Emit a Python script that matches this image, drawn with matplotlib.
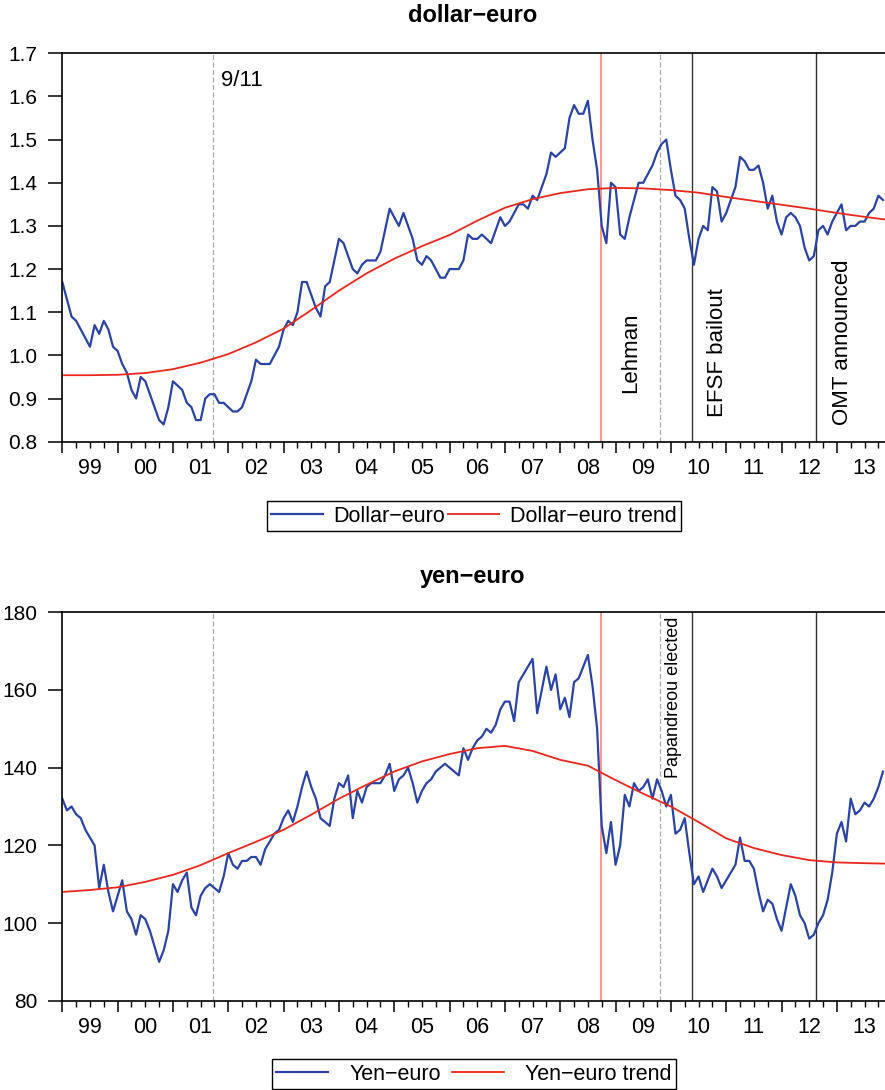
import numpy as np
import matplotlib
matplotlib.use("Agg")
import matplotlib.pyplot as plt
import matplotlib.ticker as ticker

plt.rcParams["font.family"] = ["Liberation Sans", "DejaVu Sans"]

# ---------------------------------------------------------------------------
# Data (monthly readings, Jan 1999 - Nov 2013)
# ---------------------------------------------------------------------------
dollar_euro = [
    1.17, 1.13, 1.09, 1.08, 1.06, 1.04, 1.02, 1.07, 1.05, 1.08, 1.06, 1.02,   # 1999
    1.01, 0.98, 0.96, 0.92, 0.90, 0.95, 0.94, 0.91, 0.88, 0.85, 0.84, 0.88,   # 2000
    0.94, 0.93, 0.92, 0.89, 0.88, 0.85, 0.85, 0.90, 0.91, 0.91, 0.89, 0.89,   # 2001
    0.88, 0.87, 0.87, 0.88, 0.91, 0.94, 0.99, 0.98, 0.98, 0.98, 1.00, 1.02,   # 2002
    1.06, 1.08, 1.07, 1.10, 1.17, 1.17, 1.14, 1.11, 1.09, 1.16, 1.17, 1.22,   # 2003
    1.27, 1.26, 1.23, 1.20, 1.19, 1.21, 1.22, 1.22, 1.22, 1.24, 1.29, 1.34,   # 2004
    1.32, 1.30, 1.33, 1.30, 1.27, 1.22, 1.21, 1.23, 1.22, 1.20, 1.18, 1.18,   # 2005
    1.20, 1.20, 1.20, 1.22, 1.28, 1.27, 1.27, 1.28, 1.27, 1.26, 1.29, 1.32,   # 2006
    1.30, 1.31, 1.33, 1.35, 1.35, 1.34, 1.37, 1.36, 1.39, 1.42, 1.47, 1.46,   # 2007
    1.47, 1.48, 1.55, 1.58, 1.56, 1.56, 1.59, 1.50, 1.43, 1.30, 1.26, 1.40,   # 2008
    1.39, 1.28, 1.27, 1.32, 1.36, 1.40, 1.40, 1.42, 1.44, 1.47, 1.49, 1.50,   # 2009
    1.43, 1.37, 1.36, 1.34, 1.27, 1.21, 1.27, 1.30, 1.29, 1.39, 1.38, 1.31,   # 2010
    1.33, 1.36, 1.39, 1.46, 1.45, 1.43, 1.43, 1.44, 1.40, 1.34, 1.37, 1.31,   # 2011
    1.28, 1.32, 1.33, 1.32, 1.30, 1.25, 1.22, 1.23, 1.29, 1.30, 1.28, 1.31,   # 2012
    1.33, 1.35, 1.29, 1.30, 1.30, 1.31, 1.31, 1.33, 1.34, 1.37, 1.36,         # 2013
]

yen_euro = [
    132, 129, 130, 128, 127, 124, 122, 120, 109, 115, 108, 103,   # 1999
    107, 111, 103, 101, 97, 102, 101, 98, 94, 90, 93, 98,         # 2000
    110, 108, 111, 113, 104, 102, 107, 109, 110, 109, 108, 112,   # 2001
    118, 115, 114, 116, 116, 117, 117, 115, 119, 121, 123, 124,   # 2002
    127, 129, 126, 130, 135, 139, 135, 132, 127, 126, 125, 132,   # 2003
    136, 135, 138, 127, 134, 131, 135, 136, 136, 136, 138, 141,   # 2004
    134, 137, 138, 140, 136, 131, 134, 136, 137, 139, 140, 141,   # 2005
    140, 139, 138, 145, 142, 145, 147, 148, 150, 149, 151, 155,   # 2006
    157, 157, 152, 162, 164, 166, 168, 154, 160, 166, 160, 164,   # 2007
    155, 158, 153, 162, 163, 166, 169, 161, 150, 125, 118, 126,   # 2008
    115, 120, 133, 130, 136, 134, 135, 137, 132, 137, 134, 130,   # 2009
    133, 123, 124, 127, 118, 110, 112, 108, 111, 114, 112, 109,   # 2010
    111, 113, 115, 122, 116, 116, 114, 108, 103, 106, 105, 101,   # 2011
    98, 104, 110, 107, 102, 100, 96, 97, 100, 102, 106, 113,      # 2012
    123, 126, 121, 132, 128, 129, 131, 130, 132, 135, 139,        # 2013
]
months = 1999 + np.arange(len(dollar_euro)) / 12.0

trend_x = [1999.0, 1999.5, 2000.0, 2000.5, 2001.0, 2001.5, 2002.0, 2002.5,
           2003.0, 2003.5, 2004.0, 2004.5, 2005.0, 2005.5, 2006.0, 2006.5,
           2007.0, 2007.5, 2008.0, 2008.5, 2009.0, 2009.5, 2010.0, 2010.5,
           2011.0, 2011.5, 2012.0, 2012.5, 2013.0, 2013.5, 2013.87]
dollar_trend = [0.954, 0.954, 0.955, 0.959, 0.968, 0.983, 1.003, 1.030,
                1.062, 1.105, 1.150, 1.190, 1.224, 1.253, 1.279, 1.312,
                1.342, 1.362, 1.376, 1.385, 1.388, 1.387, 1.383, 1.377,
                1.367, 1.358, 1.349, 1.340, 1.330, 1.321, 1.315]
yen_trend = [108.0, 108.5, 109.2, 110.6, 112.4, 114.9, 118.0, 120.9,
             124.0, 127.9, 132.0, 135.6, 139.0, 141.6, 143.5, 145.0,
             145.6, 144.3, 142.0, 140.5, 136.8, 133.3, 130.0, 126.0,
             121.8, 119.3, 117.5, 116.2, 115.6, 115.4, 115.3]

# event dates (decimal years)
events = {
    "9/11": 2001.73,
    "Lehman": 2008.73,
    "Papandreou": 2009.80,
    "EFSF": 2010.38,
    "OMT": 2012.63,
}
year_labels = ["99", "00", "01", "02", "03", "04", "05", "06",
               "07", "08", "09", "10", "11", "12", "13"]

BLUE = "#2b44a3"
RED = "#e8281e"
LEHMAN_RED = "#f2877c"
GRAY = "#a8a8a8"
FS = 15.5

fig = plt.figure(figsize=(8.85, 10.9), dpi=100)
ax1 = fig.add_axes([0.0704, 0.5948, 0.9296, 0.3563])
ax2 = fig.add_axes([0.0704, 0.0819, 0.9296, 0.3564])


def style_axis(ax, ylim, yticks, fmt):
    ax.set_xlim(1999.0, 2013.87)
    ax.set_ylim(*ylim)
    ax.set_yticks(yticks)
    ax.yaxis.set_major_formatter(ticker.FormatStrFormatter(fmt))
    ax.xaxis.set_major_locator(ticker.FixedLocator(np.arange(1999, 2014)))
    ax.xaxis.set_minor_locator(ticker.FixedLocator(np.arange(1999, 2014, 0.25)))
    ax.xaxis.set_major_formatter(ticker.NullFormatter())
    ax.tick_params(axis="x", which="major", direction="out", length=8, width=1.1)
    ax.tick_params(axis="x", which="minor", direction="out", length=4, width=1.0)
    ax.tick_params(axis="y", direction="out", length=10, width=1.1,
                   labelsize=15, pad=8)
    for s in ["left", "bottom", "top"]:
        ax.spines[s].set_linewidth(1.2)
    ax.spines["right"].set_visible(False)
    for i, lab in enumerate(year_labels):
        ax.text(1999.5 + i, -0.07, lab, transform=ax.get_xaxis_transform(),
                ha="center", va="center", fontsize=FS)
    ax.axvline(events["9/11"], color=GRAY, ls=(0, (4, 2)), lw=0.9)
    ax.axvline(events["Lehman"], color=LEHMAN_RED, lw=1.2)
    ax.axvline(events["Papandreou"], color=GRAY, ls=(0, (4, 2)), lw=0.9)
    ax.axvline(events["EFSF"], color="#333333", lw=1.0)
    ax.axvline(events["OMT"], color="#333333", lw=1.0)


# --- top panel: dollar-euro ---
style_axis(ax1, (0.8, 1.7), np.arange(0.8, 1.71, 0.1), "%.1f")
ax1.plot(months, dollar_euro, color=BLUE, lw=1.6, label="Dollar\u2212euro")
ax1.plot(trend_x, dollar_trend, color=RED, lw=1.3, label="Dollar\u2212euro trend")
ax1.text(2001.87, 1.638, "9/11", fontsize=16, ha="left", va="center")
ax1.text(2009.27, 1.007, "Lehman", fontsize=16, rotation=90, ha="center", va="center")
ax1.text(2010.84, 1.006, "EFSF bailout", fontsize=16, rotation=90, ha="center", va="center")
ax1.text(2013.10, 1.031, "OMT announced", fontsize=16, rotation=90, ha="center", va="center")
fig.text(473 / 885, 1 - 15 / 1090, "dollar\u2212euro", ha="center", va="center",
         fontsize=17, fontweight="bold")
fig.legend(*ax1.get_legend_handles_labels(), loc="center",
           bbox_to_anchor=(474 / 885, 1 - 516 / 1090), ncol=2, fontsize=FS,
           frameon=True, fancybox=False, edgecolor="black", framealpha=1,
           handlelength=2.4, handletextpad=0.5, columnspacing=0.1,
           borderpad=0.2, borderaxespad=0)

# --- bottom panel: yen-euro ---
style_axis(ax2, (80, 180), np.arange(80, 181, 20), "%d")
ax2.plot(months, yen_euro, color=BLUE, lw=1.6, label="Yen\u2212euro")
ax2.plot(trend_x, yen_trend, color=RED, lw=1.3, label="Yen\u2212euro trend")
ax2.text(2010.05, 158.0, "Papandreou elected", fontsize=13, rotation=90,
         ha="center", va="center")
fig.text(473 / 885, 1 - 576 / 1090, "yen\u2212euro", ha="center", va="center",
         fontsize=17, fontweight="bold")
fig.legend(*ax2.get_legend_handles_labels(), loc="center",
           bbox_to_anchor=(474 / 885, 1 - 1074 / 1090), ncol=2, fontsize=FS,
           frameon=True, fancybox=False, edgecolor="black", framealpha=1,
           handlelength=2.4, handletextpad=1.0, columnspacing=0.5,
           borderpad=0.2, borderaxespad=0)

fig.savefig("out.png", dpi=100)
